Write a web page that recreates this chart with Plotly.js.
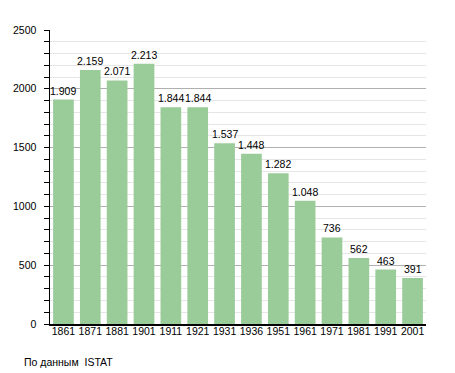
<!DOCTYPE html>
<html><head><meta charset="utf-8">
<script src="https://cdn.plot.ly/plotly-3.0.1.min.js"></script>
<style>html,body{margin:0;padding:0;background:#fff}</style>
</head><body>
<div id="chart" style="width:455px;height:373px"></div>
<script>
const years = ["1861","1871","1881","1901","1911","1921","1931","1936","1951","1961","1971","1981","1991","2001"];
const population = [1909,2159,2071,2213,1844,1844,1537,1448,1282,1048,736,562,463,391];
const yTicks = [0,500,1000,1500,2000,2500];
const source = "По данным  ISTAT";

function fmt(v) { return String(v).replace(/\B(?=(\d{3})+(?!\d))/g, '.'); }

const trace = {
  type: 'bar',
  x: years,
  y: population,
  marker: {color: '#99cc99', line: {width: 0}},
  hoverinfo: 'none'
};

const valueLabels = years.map((yr, i) => ({
  x: i, y: population[i], xref: 'x', yref: 'y',
  text: fmt(population[i]), showarrow: false,
  yanchor: 'bottom', xanchor: 'center', yshift: 1,
  font: {size: 10.5, color: '#000'}
}));

const layout = {
  width: 455, height: 373,
  margin: {l: 50, r: 29, t: 30, b: 49},
  paper_bgcolor: '#fff', plot_bgcolor: '#fff',
  font: {family: 'Liberation Sans, Arial, sans-serif', size: 10.5, color: '#000'},
  bargap: 0.23,
  showlegend: false,
  xaxis: {
    type: 'category',
    range: [-0.5, years.length - 0.5],
    showline: true, linecolor: '#000', linewidth: 1.5,
    ticks: '', showgrid: false,
    ticklabelstandoff: -3,
    tickfont: {size: 10.5, color: '#000'}
  },
  yaxis: {
    range: [0, 2500],
    tickvals: yTicks,
    ticks: 'outside', ticklen: 5, tickcolor: '#000', tickwidth: 1,
    ticklabelstandoff: 5,
    showline: true, linecolor: '#000', linewidth: 1.5,
    showgrid: true, gridcolor: '#b0b0b0', gridwidth: 1,
    zeroline: false,
    minor: {dtick: 100, ticks: 'outside', ticklen: 5, tickcolor: '#000', showgrid: true, gridcolor: '#e6e6e6', gridwidth: 1},
    tickfont: {size: 10.5, color: '#000'}
  },
  annotations: valueLabels.concat([{
    text: source, xref: 'paper', yref: 'paper',
    x: -0.075, y: -0.13, xanchor: 'left', yanchor: 'middle',
    showarrow: false, font: {size: 10.5, color: '#000'}
  }])
};

Plotly.newPlot('chart', [trace], layout, {staticPlot: true, displayModeBar: false});
</script>
</body></html>
